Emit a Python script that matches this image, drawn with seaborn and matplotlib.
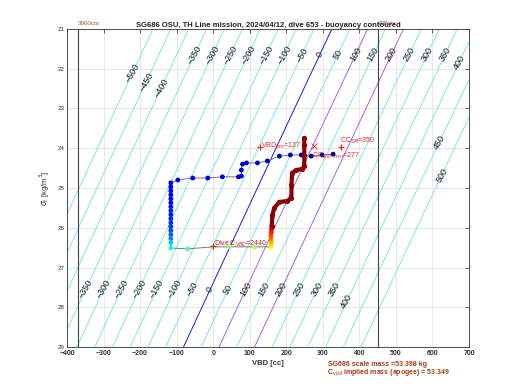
import numpy as np
import pandas as pd
import matplotlib
matplotlib.use('Agg')
import matplotlib.pyplot as plt
import seaborn as sns

# glider / contour parameters
glider_mass_g = 53349.0      # implied mass (apogee)
hull_volume_cc = 51927.0     # volume at VBD = 0
levels = list(range(-500, 501, 50))
min_vbd, max_vbd = -371, 451
min_cts, max_cts = '3960cts', '605cts'

# dive track, time ordered (VBD cc, sigma_t, fraction of dive time)
vbd = [328, 298, 268, 241, 211, 181, 148, 121, 91, 80, 77, 77, 69, 25, -15, -56, -97, -116,
       -116, -116, -116, -116, -116, -116, -116, -116, -116, -116, -116, -116, -116, -116, -116, -116,
       -70, 0, 45, 113,
       158, 158, 158, 158, 158, 159, 159, 160]
sigma = [24.15, 24.17, 24.20, 24.17, 24.17, 24.20, 24.32, 24.37, 24.37, 24.40, 24.55, 24.70, 24.72, 24.72, 24.75, 24.75, 24.80, 24.87,
         24.97, 25.07, 25.17, 25.27, 25.37, 25.47, 25.57, 25.67, 25.77, 25.87, 25.97, 26.07, 26.17, 26.27, 26.37, 26.51,
         26.53, 26.48, 26.48, 26.48,
         26.48, 26.42, 26.35, 26.28, 26.20, 26.12, 26.04, 25.96]
tfrac = [0.02, 0.03, 0.03, 0.04, 0.04, 0.05, 0.05, 0.06, 0.06, 0.06, 0.07, 0.07, 0.07, 0.08, 0.08, 0.08, 0.09, 0.09,
         0.10, 0.11, 0.12, 0.13, 0.13, 0.14, 0.15, 0.15, 0.16, 0.17, 0.18, 0.20, 0.22, 0.26, 0.32, 0.38,
         0.45, 0.50, 0.52, 0.55,
         0.63, 0.68, 0.73, 0.78, 0.83, 0.87, 0.90, 0.93]

# ascent (dark red part)
asc_vbd = [160, 162, 167, 181, 203, 214, 214, 216, 227, 244, 249, 249, 249, 249]
asc_sigma = [25.96, 25.68, 25.50, 25.35, 25.33, 25.25, 24.92, 24.62, 24.55, 24.52, 24.45, 24.17, 23.92, 23.74]

# annotations
vbd_bm, cc_surf_min, cc_sm, dive_vbd = 127, 277, 350, 0

track = pd.DataFrame({'vbd': vbd, 'sigma': sigma, 'tfrac': tfrac})
ascent = pd.DataFrame({'vbd': asc_vbd, 'sigma': asc_sigma})

sns.set_theme(style='white')
plt.rcParams['font.family'] = ['Liberation Sans', 'DejaVu Sans']

fig, ax = plt.subplots(figsize=(5.2, 3.9), dpi=100)
fig.subplots_adjust(left=0.129, right=0.902, bottom=0.110, top=0.926)

# buoyancy field
vg, sg = np.meshgrid(np.linspace(-400, 700, 221), np.linspace(21, 29, 81))
buoy = (1 + sg / 1000.0) * (hull_volume_cc + vg) - glider_mass_g
cols = []
for lev in levels:
    if lev == 0:
        cols.append('#1a1adb')
    elif lev in (100, 200):
        cols.append('#9b6bd6')
    else:
        cols.append('#7ee6ea')
cs = ax.contour(vg, sg, buoy, levels=levels, colors=cols, linewidths=0.7, zorder=2)

def on_level(lev, s):
    return ((glider_mass_g + lev) / (1 + s / 1000.0) - hull_volume_cc, s)

pos = []
for lev in levels:
    if -350 <= lev <= 350:
        pos.append(on_level(lev, 21.65))
        pos.append(on_level(lev, 27.55))
pos += [on_level(-500, 22.1), on_level(-450, 22.33), on_level(-400, 22.48),
        on_level(400, 21.85), on_level(400, 27.85), on_level(450, 23.84), on_level(500, 24.67)]
labels = ax.clabel(cs, fontsize=6.5, colors='k', inline=False, manual=pos)
for t in labels:
    t.set_rotation(60)

ax.axvline(min_vbd, color='#444444', lw=0.8, zorder=3)
ax.axvline(max_vbd, color='#444444', lw=0.8, zorder=3)
ax.text(min_vbd, 1.01, min_cts, transform=ax.get_xaxis_transform(), fontsize=4.5,
        color='#a0522d', ha='left', va='bottom')
ax.text(max_vbd, 1.01, max_cts, transform=ax.get_xaxis_transform(), fontsize=4.5,
        color='#a0522d', ha='left', va='bottom')

# track
sns.lineplot(data=track, x='vbd', y='sigma', sort=False, estimator=None, color='#777777',
             lw=0.7, ax=ax, zorder=4)
sns.lineplot(data=ascent, x='vbd', y='sigma', sort=False, estimator=None, color='#8b0000',
             lw=3.0, ax=ax, zorder=5)
sns.scatterplot(data=track, x='vbd', y='sigma', hue='tfrac', palette=plt.get_cmap('jet'),
                hue_norm=(0, 1), s=12, linewidth=0, legend=False, ax=ax, zorder=6)
sns.scatterplot(data=ascent, x='vbd', y='sigma', color='#8b0000', s=14, linewidth=0,
                legend=False, ax=ax, zorder=6)

red = '#e82020'
ax.plot(vbd_bm, 23.97, marker='+', color=red, ms=5, mew=0.8, zorder=7)
ax.text(vbd_bm + 4, 23.95, 'VBD$_{bm}$=%d' % vbd_bm, color=red, fontsize=5, va='center', zorder=7)
ax.plot(cc_surf_min, 23.95, marker='x', color=red, ms=4, mew=0.6, zorder=7)
ax.text(cc_surf_min - 6, 24.2, 'CC$_{surf\\ min}$=%d' % cc_surf_min, color=red, fontsize=5,
        va='center', zorder=7)
ax.plot(cc_sm, 23.97, marker='+', color=red, ms=5, mew=0.8, zorder=7)
ax.text(cc_sm - 2, 23.82, 'CC$_{SM}$=%d' % cc_sm, color=red, fontsize=5, va='center', zorder=7)
ax.plot(dive_vbd, 26.47, marker='+', color=red, ms=5, mew=0.8, zorder=7)
ax.text(dive_vbd + 2, 26.4, 'Dive C$_{VBD}$=2440', color='#c02020', fontsize=5, va='center', zorder=7)

ax.set_xlim(-400, 700)
ax.set_ylim(29, 21)
ax.set_xticks(range(-400, 701, 100))
ax.set_yticks(range(21, 30))
ax.grid(True, color='#e4e4e4', lw=0.6)
ax.set_axisbelow(True)
ax.tick_params(direction='in', top=True, right=True, length=3, width=0.5, pad=2)
ax.tick_params(axis='x', labelsize=5, labelcolor='#333333')
ax.tick_params(axis='y', labelsize=4.5, labelcolor='#333333')
for lbl in ax.get_xticklabels():
    lbl.set_fontweight('bold')
for sp in ax.spines.values():
    sp.set_color('#333333')
    sp.set_linewidth(0.6)

ax.set_xlabel('VBD [cc]', fontsize=5.5, fontweight='bold', color='#333333', labelpad=2)
ax.set_ylabel('$\\sigma_t$ [kg/m$^3$]', fontsize=5.5, color='#333333', labelpad=4)
ax.set_title('SG686 OSU, TH Line mission, 2024/04/12, dive 653 - buoyancy contoured',
             fontsize=5.5, fontweight='bold', color='#222222', pad=1.5)

fig.text(328 / 520, 1 - 364 / 390, 'SG686 scale mass =53.398 kg', color='#a0401c',
         fontsize=5, fontweight='bold', va='center')
fig.text(327 / 520, 1 - 373 / 390, 'C$_{vbd}$ implied mass (apogee) = 53.349', color='#a0401c',
         fontsize=5, fontweight='bold', va='center')

fig.savefig('out.png', dpi=100)
